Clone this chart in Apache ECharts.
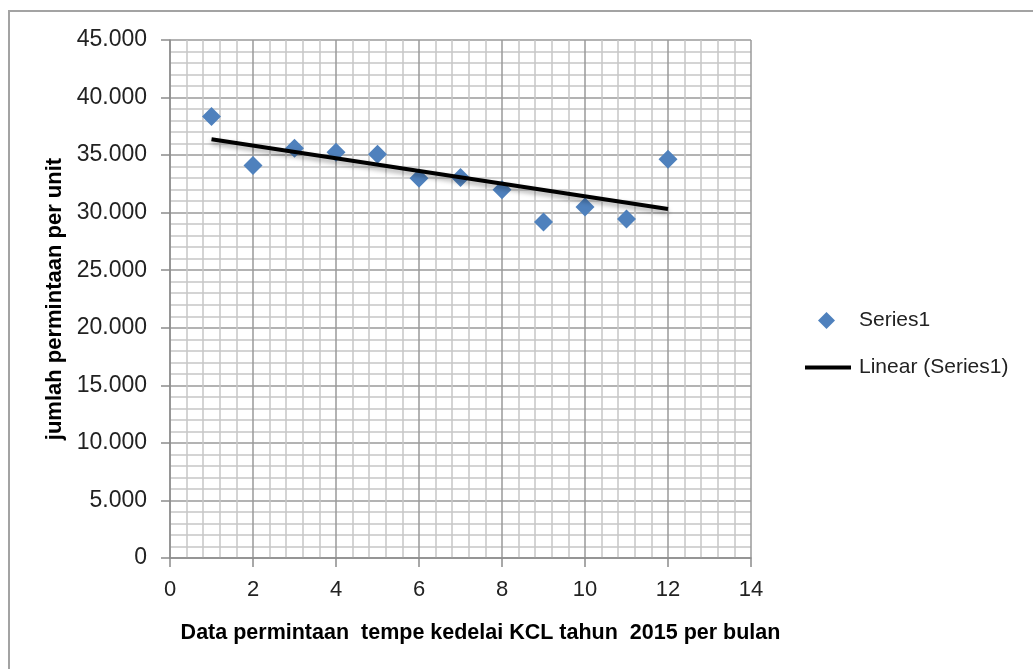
<!DOCTYPE html>
<html>
<head>
<meta charset="utf-8">
<title>Permintaan tempe kedelai KCL 2015</title>
<script src="https://cdn.jsdelivr.net/npm/echarts@6/dist/echarts.min.js"></script>
<style>
  html, body { margin: 0; padding: 0; background: #fff; }
  #chart { width: 1033px; height: 669px; }
</style>
</head>
<body>
<div id="chart"></div>
<script>
// Monthly demand (units) for 2015, month number on x
const months = [1, 2, 3, 4, 5, 6, 7, 8, 9, 10, 11, 12];
const demand = [38350, 34100, 35600, 35250, 35070, 33000, 33050, 32000, 29200, 30500, 29450, 34650];
const xTicks = [0, 2, 4, 6, 8, 10, 12, 14];
const yTicks = [0, 5000, 10000, 15000, 20000, 25000, 30000, 35000, 40000, 45000];

// Least-squares linear trend over the monthly points
function linearFit(xs, ys) {
  const n = xs.length;
  const mx = xs.reduce((a, b) => a + b, 0) / n;
  const my = ys.reduce((a, b) => a + b, 0) / n;
  let sxy = 0, sxx = 0;
  for (let i = 0; i < n; i++) {
    sxy += (xs[i] - mx) * (ys[i] - my);
    sxx += (xs[i] - mx) * (xs[i] - mx);
  }
  const slope = sxy / sxx;
  return x => my + slope * (x - mx);
}
const trend = linearFit(months, demand);
const trendData = [months[0], months[months.length - 1]].map(x => [x, trend(x)]);

const FONT = '"Liberation Sans", Arial, sans-serif';
// Thousands separated with a dot: 45000 -> "45.000"
const fmt = v => String(v).replace(/\B(?=(\d{3})+(?!\d))/g, '.');

const chart = echarts.init(document.getElementById('chart'), null, { renderer: 'canvas' });
chart.setOption({
  backgroundColor: '#ffffff',
  animation: false,
  textStyle: { fontFamily: FONT },
  graphic: [{
    type: 'rect',
    silent: true,
    shape: { x: 9, y: 11, width: 1100, height: 700 },
    style: { fill: 'none', stroke: '#a3a3a3', lineWidth: 2 }
  }],
  grid: { left: 170, right: 282, top: 40, bottom: 111, containLabel: false },
  legend: [{
    data: [{ name: 'Series1', icon: 'diamond' }],
    left: 813, top: 305,
    itemWidth: 17, itemHeight: 17,
    itemStyle: { color: '#4f81bd' },
    textStyle: { fontSize: 21, color: '#222', padding: [0, 0, 0, 19], fontFamily: FONT },
    selectedMode: false
  }, {
    data: [{ name: 'Linear (Series1)', icon: 'rect' }],
    left: 800, top: 352,
    itemWidth: 46, itemHeight: 4,
    itemStyle: { color: '#000' },
    textStyle: { fontSize: 21, color: '#222', padding: [0, 0, 0, 3], fontFamily: FONT },
    selectedMode: false
  }],
  xAxis: {
    type: 'value',
    min: xTicks[0], max: xTicks[xTicks.length - 1], interval: 2,
    name: 'Data permintaan  tempe kedelai KCL tahun  2015 per bulan',
    nameLocation: 'middle', nameGap: 64,
    nameTextStyle: { fontSize: 21.5, fontWeight: 'bold', color: '#000', padding: [0, 0, 0, 40], fontFamily: FONT },
    axisLine: { show: true, onZero: false, lineStyle: { color: '#8c8c8c', width: 1.5 } },
    axisTick: { show: true, inside: false, length: 9, lineStyle: { color: '#8c8c8c', width: 1.5 } },
    axisLabel: { fontSize: 22, color: '#222', margin: 21, fontFamily: FONT },
    splitLine: { show: true, lineStyle: { color: '#9a9a9a', width: 1.5 } },
    minorTick: { show: false, splitNumber: 5 },
    minorSplitLine: { show: true, lineStyle: { color: '#c6c6c6', width: 1.5 } }
  },
  yAxis: {
    type: 'value',
    min: yTicks[0], max: yTicks[yTicks.length - 1], interval: 5000,
    name: 'jumlah permintaan per unit',
    nameLocation: 'middle', nameGap: 100,
    nameTextStyle: { fontSize: 22, fontWeight: 'bold', color: '#000', fontFamily: FONT },
    axisLine: { show: true, lineStyle: { color: '#8c8c8c', width: 1.5 } },
    axisTick: { show: true, inside: false, length: 9, lineStyle: { color: '#8c8c8c', width: 1.5 } },
    axisLabel: { fontSize: 23, color: '#222', margin: 23, formatter: fmt, fontFamily: FONT },
    splitLine: { show: true, lineStyle: { color: '#9a9a9a', width: 1.5 } },
    minorTick: { show: false, splitNumber: 5 },
    minorSplitLine: { show: true, lineStyle: { color: '#c6c6c6', width: 1.5 } }
  },
  series: [{
    name: 'Series1',
    type: 'scatter',
    symbol: 'diamond',
    symbolSize: 19,
    itemStyle: { color: '#4f81bd', opacity: 1 },
    data: months.map((m, i) => [m, demand[i]]),
    z: 3
  }, {
    name: 'Linear (Series1)',
    type: 'line',
    symbol: 'none',
    lineStyle: {
      color: '#000', width: 4,
      shadowColor: 'rgba(0,0,0,0.35)', shadowBlur: 5, shadowOffsetY: 3
    },
    itemStyle: { color: '#000' },
    data: trendData,
    z: 4
  }]
});
</script>
</body>
</html>
